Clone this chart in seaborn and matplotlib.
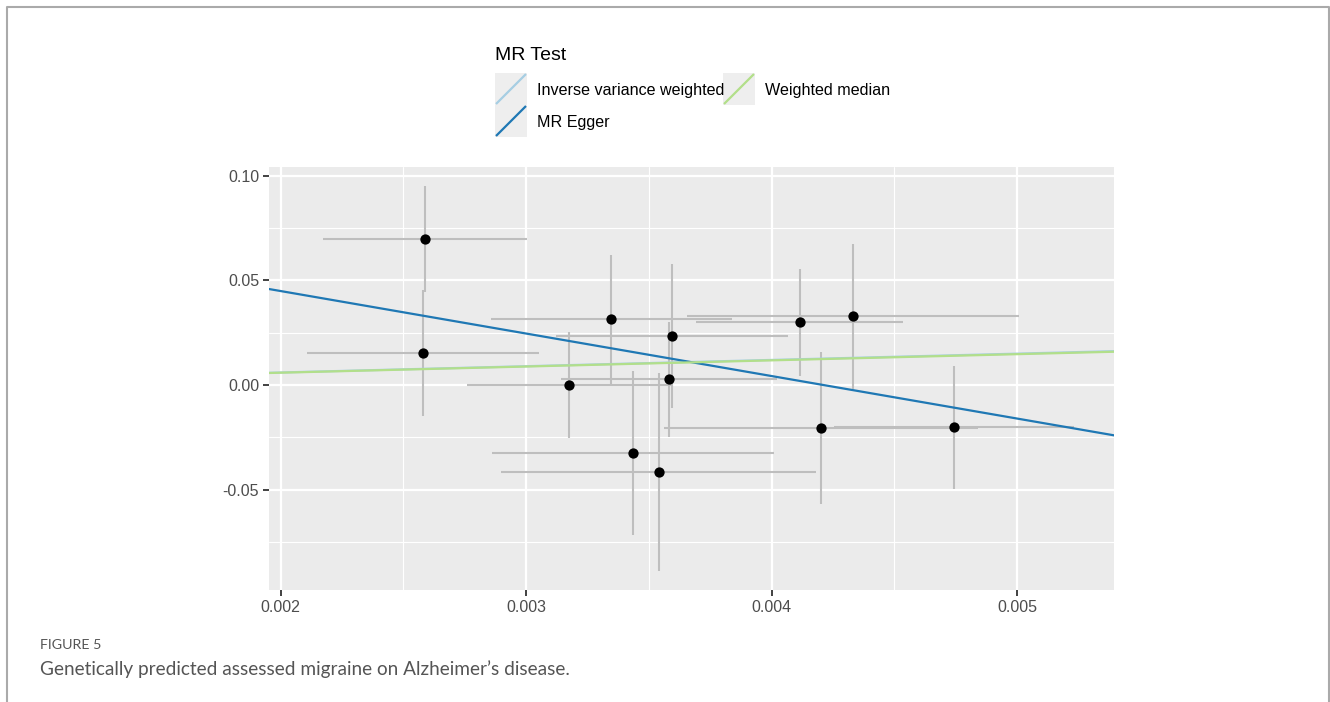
# MR scatter plot: migraine -> Alzheimer's disease

import numpy as np
import pandas as pd
import matplotlib
matplotlib.use('Agg')
import matplotlib.pyplot as plt
import seaborn as sns
from matplotlib.ticker import FixedLocator, FormatStrFormatter

# SNP effects
beta_exposure = [0.002587, 0.002579, 0.003174, 0.003347, 0.003593, 0.003582,
                 0.003436, 0.003540, 0.004114, 0.004331, 0.004200, 0.004745]
se_exposure = [0.000415, 0.000473, 0.000417, 0.000490, 0.000473, 0.000440,
               0.000574, 0.000642, 0.000420, 0.000676, 0.000640, 0.000489]
beta_outcome = [0.0698, 0.0151, 0.0000, 0.0315, 0.0234, 0.0027,
                -0.0323, -0.0416, 0.0300, 0.0328, -0.0207, -0.0202]
se_outcome = [0.0253, 0.0301, 0.0253, 0.0308, 0.0344, 0.0275,
              0.0392, 0.0473, 0.0255, 0.0346, 0.0363, 0.0294]

# MR estimates (slope, intercept)
methods = ['Inverse variance weighted', 'MR Egger', 'Weighted median']
slopes = [3.0, -20.3, 2.95]
intercepts = [0.0, 0.0855, 0.0]
colors = ['#a6cee3', '#1f78b4', '#b2df8a']

df = pd.DataFrame({'bx': beta_exposure, 'sx': se_exposure,
                   'by': beta_outcome, 'sy': se_outcome})

sns.set_theme(style='darkgrid', rc={
    'axes.facecolor': '#EBEBEB',
    'grid.color': 'white',
    'axes.edgecolor': '#EBEBEB',
})
plt.rcParams['font.family'] = ['Liberation Sans', 'DejaVu Sans']

fig = plt.figure(figsize=(13.3, 7.02), dpi=100)
ax = fig.add_axes([268.8 / 1330, 1 - 590 / 702, (1114 - 268.8) / 1330, (590 - 166.7) / 702])

# error bars
ax.errorbar(df['bx'], df['by'], yerr=df['sy'], fmt='none', ecolor='#BEBEBE',
            elinewidth=1.5, capsize=0, zorder=2)
ax.errorbar(df['bx'], df['by'], xerr=df['sx'], fmt='none', ecolor='#BEBEBE',
            elinewidth=1.5, capsize=0, zorder=2)

sns.scatterplot(data=df, x='bx', y='by', color='black', s=55, edgecolor='black',
                linewidth=0, zorder=3, ax=ax)

for m, b, a, c in zip(methods, slopes, intercepts, colors):
    ax.axline((0, a), slope=b, color=c, lw=1.6, zorder=4)

ax.set_xlim(0.0019515, 0.005395)
ax.set_ylim(-0.0979, 0.1043)
ax.xaxis.set_major_locator(FixedLocator([0.002, 0.003, 0.004, 0.005]))
ax.xaxis.set_minor_locator(FixedLocator([0.0025, 0.0035, 0.0045]))
ax.yaxis.set_major_locator(FixedLocator([-0.05, 0.0, 0.05, 0.10]))
ax.yaxis.set_minor_locator(FixedLocator([-0.075, -0.025, 0.025, 0.075]))
ax.xaxis.set_major_formatter(FormatStrFormatter('%.3f'))
ax.yaxis.set_major_formatter(FormatStrFormatter('%.2f'))
ax.grid(which='major', color='white', lw=1.6)
ax.grid(which='minor', color='white', lw=0.8)
ax.tick_params(which='major', length=4, width=1.3, color='#333333',
               labelsize=11.5, labelcolor='#4D4D4D', pad=3,
               bottom=True, left=True)
ax.tick_params(which='minor', length=0)
ax.set_xlabel('')
ax.set_ylabel('')
for s in ax.spines.values():
    s.set_visible(False)

# overlay in pixel units: legend, frame, caption
ov = fig.add_axes([0, 0, 1, 1], facecolor='none')
ov.set_xlim(0, 1330)
ov.set_ylim(702, 0)
ov.axis('off')

ov.text(495, 55, 'MR Test', fontsize=14, va='center', ha='left', color='black')
keys = [(495, 73), (495, 105), (723, 73)]
for (kx, ky), m, c in zip(keys, methods, colors):
    ov.add_patch(plt.Rectangle((kx, ky), 32, 32, facecolor='#EEEEEE', edgecolor='none'))
    ov.plot([kx + 1, kx + 31], [ky + 31, ky + 1], color=c, lw=1.6,
            solid_capstyle='butt')
    ov.text(kx + 42, ky + 17, m, fontsize=11.6, va='center', ha='left', color='black')

# figure frame
ov.plot([7, 7, 1329, 1329], [702, 7, 7, 702], color='#AAAAAA', lw=1.5)

ov.text(40, 645, 'FIGURE 5', fontsize=10.3, color='#555555', va='center', ha='left',
        family=['Lato', 'DejaVu Sans'])
ov.text(40, 669, 'Genetically predicted assessed migraine on Alzheimer\u2019s disease.',
        fontsize=13.7, color='#555555', va='center', ha='left',
        family=['Lato', 'DejaVu Sans'])

fig.savefig('out.png', dpi=100)
